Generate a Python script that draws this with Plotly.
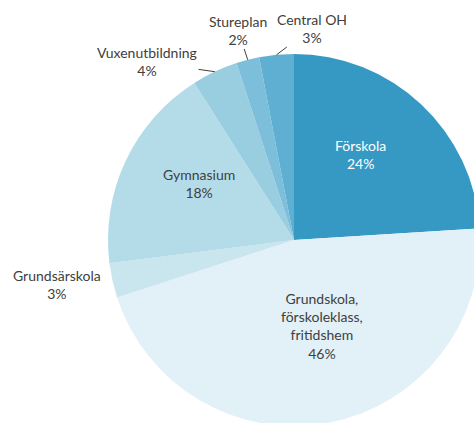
import math
import plotly.graph_objects as go

labels = ["Förskola", "Grundskola,<br>förskoleklass,<br>fritidshem", "Grundsärskola",
          "Gymnasium", "Vuxenutbildning", "Stureplan", "Central OH"]
values = [24, 46, 3, 18, 4, 2, 3]
colors = ["#3599C4", "#E2F0F7", "#C9E5EE", "#B4DCE8", "#99CDE0", "#7DBFDA", "#5FAFD2"]
text_colors = ["#FFFFFF", "#404040", "#404040", "#404040", "#404040", "#404040", "#404040"]

# label block centres (pixels) and whether a leader line to the slice rim is drawn
label_px = [(360, 154), (322, 326), (57, 284), (199, 183), (147, 62), (238, 30), (312, 28)]
leader_line = [False, False, False, False, True, True, True]

W, H = 500, 440
cx, cy, r = 294, 240, 186
FONT = "Lato"
FS = 14
GREY = "#404040"

fig = go.Figure(go.Pie(
    labels=labels,
    values=values,
    sort=False,
    direction="clockwise",
    rotation=0,
    marker=dict(colors=colors, line=dict(width=0)),
    textinfo="none",
    hoverinfo="label+percent",
    showlegend=False,
    domain=dict(x=[(cx - r) / W, (cx + r) / W], y=[(H - cy - r) / H, (H - cy + r) / H]),
    automargin=False,
))

total = sum(values)
cum = 0
annotations = []
for i, v in enumerate(values):
    mid = (cum + v / 2) / total * 2 * math.pi
    cum += v
    lx, ly = label_px[i]
    text = f"{labels[i]}<br>{round(v / total * 100)}%"
    font = dict(family=FONT, size=FS, color=text_colors[i])
    if leader_line[i]:
        px = cx + r * math.sin(mid)
        py = cy - r * math.cos(mid)
        annotations.append(dict(
            x=px / W, y=1 - py / H, xref="paper", yref="paper",
            ax=lx - px, ay=ly - py, axref="pixel", ayref="pixel",
            text=text, showarrow=True, arrowhead=0, arrowwidth=1,
            arrowcolor=GREY, standoff=0, font=font, align="center",
        ))
    else:
        annotations.append(dict(
            x=lx / W, y=1 - ly / H, xref="paper", yref="paper",
            xanchor="center", yanchor="middle",
            text=text, showarrow=False, font=font, align="center",
        ))

fig.update_layout(
    width=W, height=H,
    margin=dict(l=0, r=0, t=0, b=0),
    paper_bgcolor="white",
    showlegend=False,
    annotations=annotations,
)

fig.write_html(
    "out.html",
    config={"displayModeBar": False},
    post_script="document.body.style.margin='0';document.body.style.overflow='hidden';document.documentElement.style.overflow='hidden';",
)
